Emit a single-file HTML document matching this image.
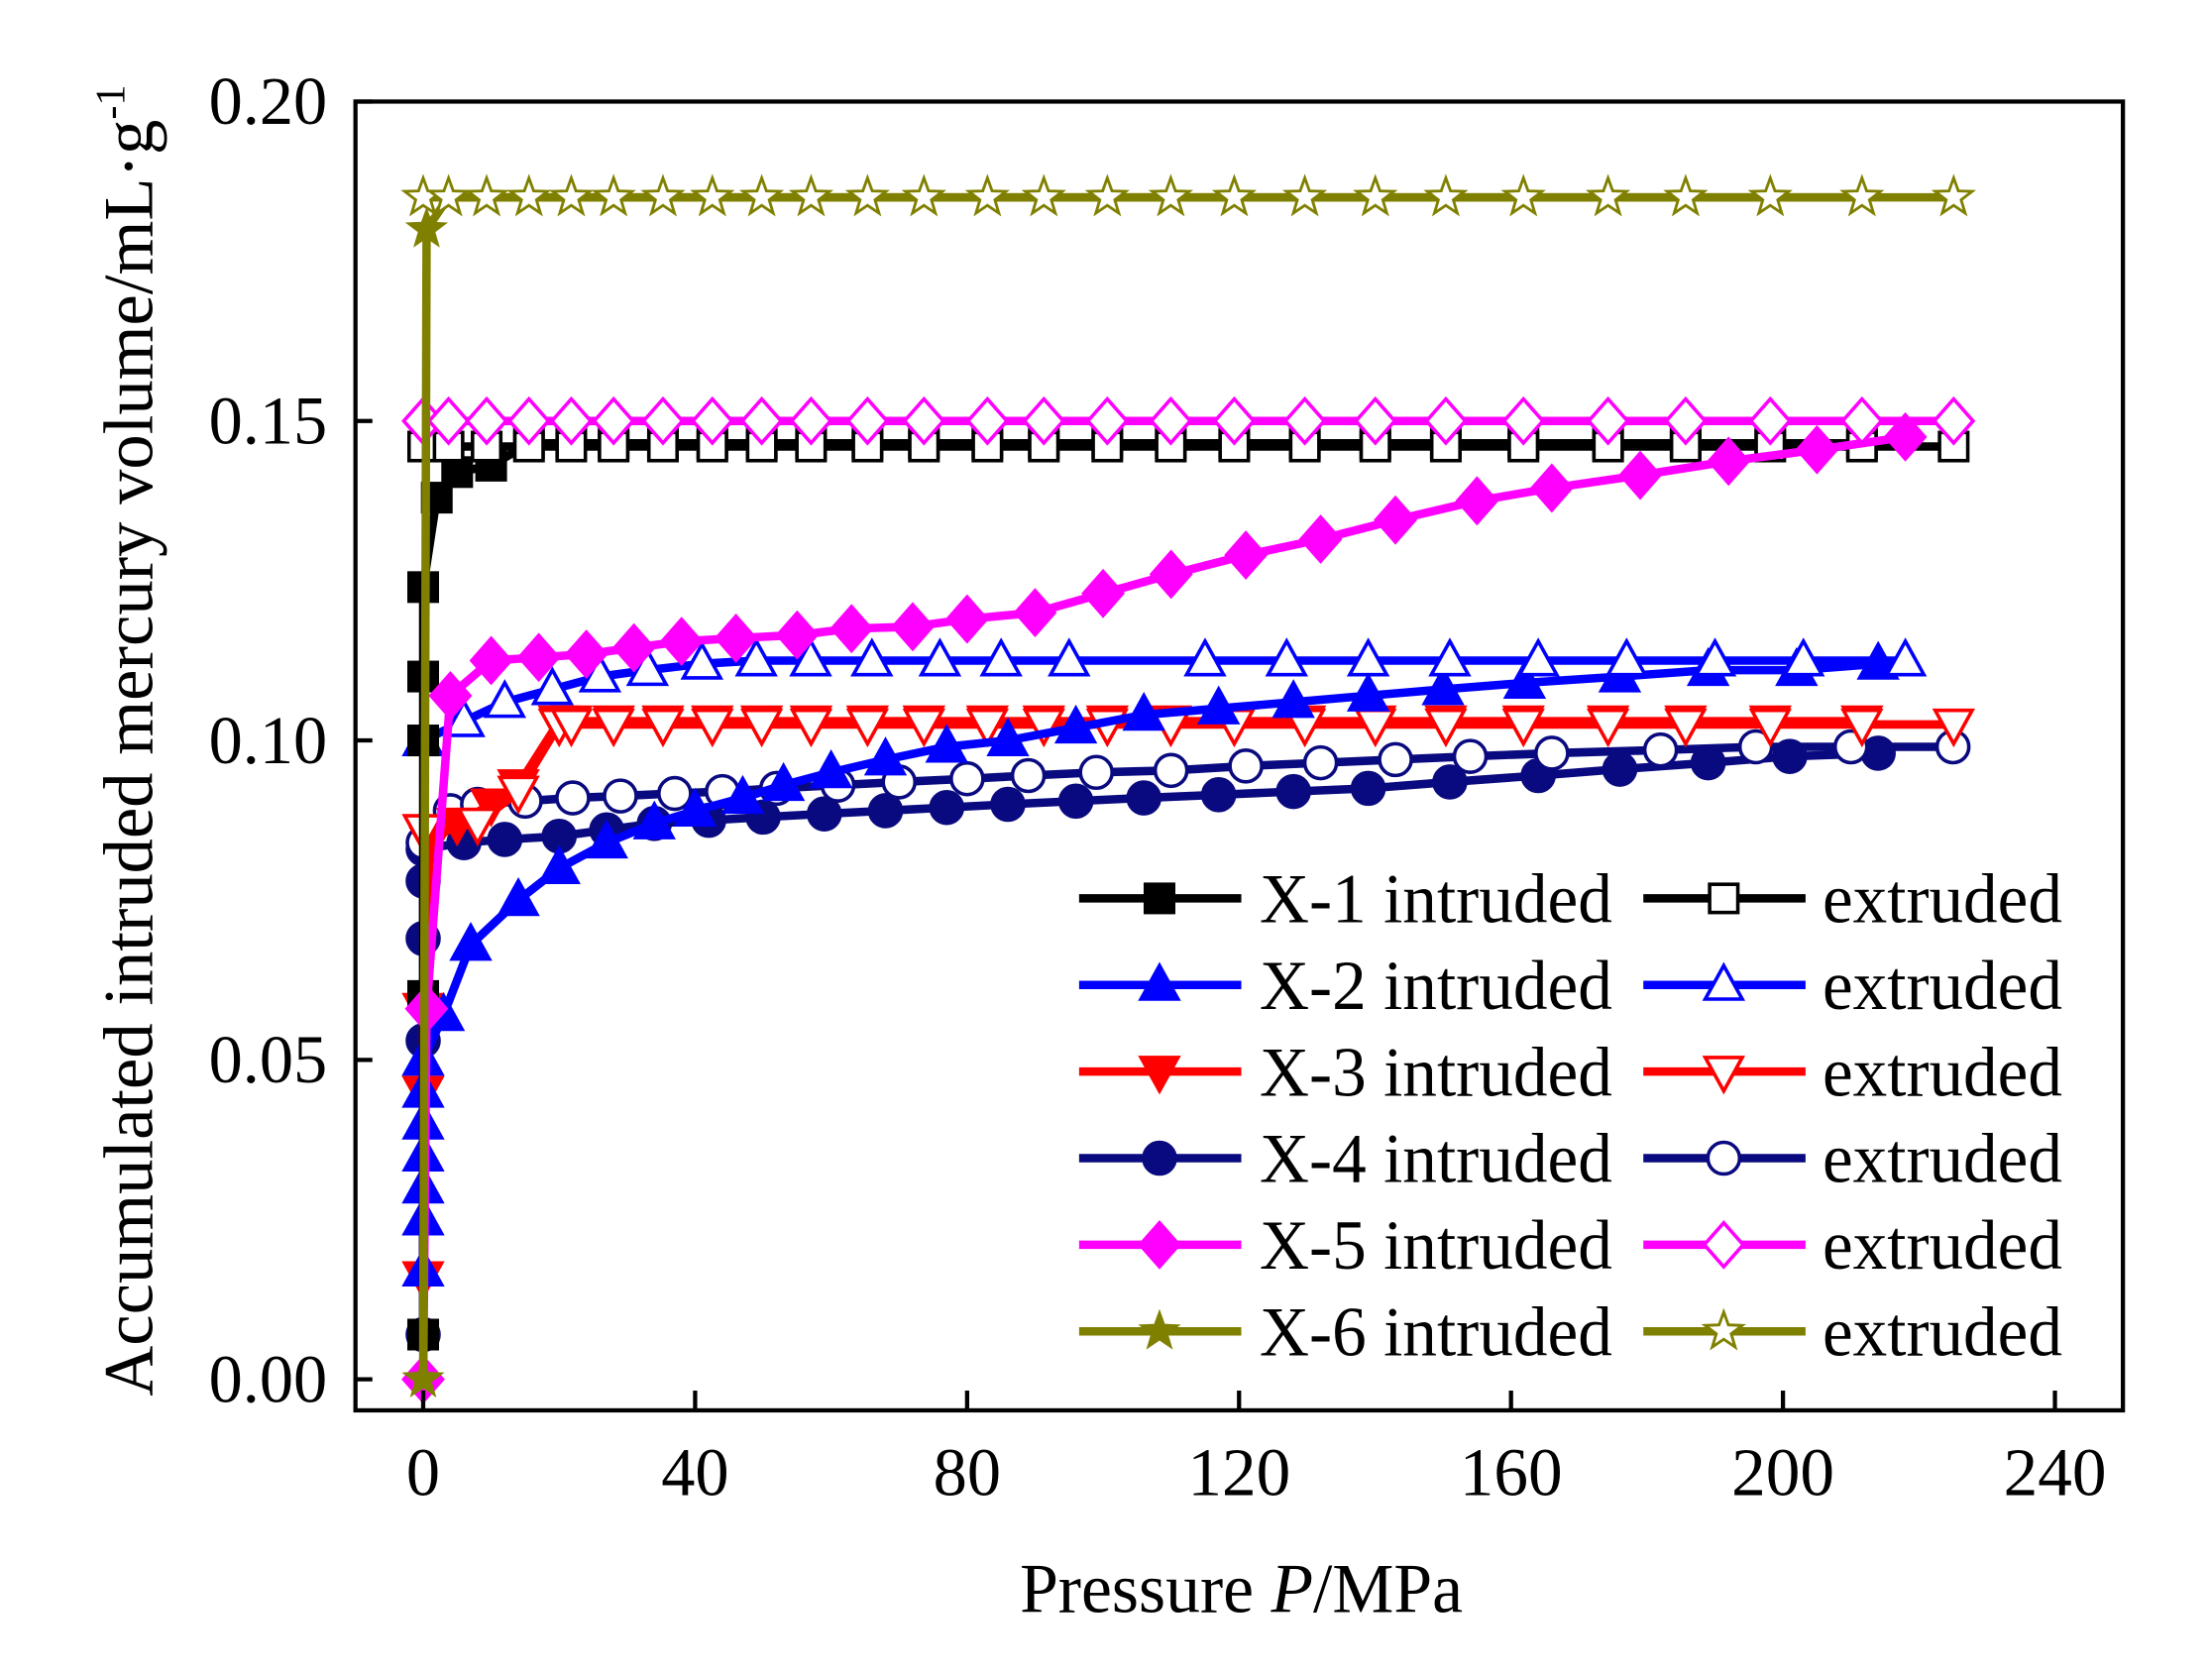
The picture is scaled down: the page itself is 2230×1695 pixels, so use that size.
<!DOCTYPE html>
<html><head><meta charset="utf-8"><style>html,body{margin:0;padding:0;background:#fff}svg{display:block}</style></head>
<body>
<svg id="s" xmlns="http://www.w3.org/2000/svg" width="2230" height="1695" viewBox="0 0 1552 1180" preserveAspectRatio="none" font-family="Liberation Serif, serif">
<rect width="1552" height="1180" fill="#fff"/>
<g transform="scale(0.9906)">
<g id="plot"></g>
<rect x="252" y="72" width="1253" height="928" fill="none" stroke="#000" stroke-width="3"/>
<g id="ax" font-size="48" fill="#000"></g>
<text x="880" y="1143" font-size="50" text-anchor="middle" textLength="314" lengthAdjust="spacingAndGlyphs">Pressure <tspan font-style="italic">P</tspan>/MPa</text>
<text transform="translate(108,525) rotate(-90)" font-size="50" text-anchor="middle" textLength="930" lengthAdjust="spacingAndGlyphs">Accumulated intruded mercury volume/mL·g<tspan dy="-20" font-size="30">-1</tspan></text>
<g id="leg"></g>
</g>
</svg>
<script>
const NS="http://www.w3.org/2000/svg";
const X=v=>300+v*4.82, Y=v=>978-v*4530;
function el(p,t,a){const e=document.createElementNS(NS,t);for(const k in a)e.setAttribute(k,a[k]);p.appendChild(e);return e;}
const plot=document.getElementById('plot'),ax=document.getElementById('ax'),leg=document.getElementById('leg');
[0,0.05,0.10,0.15,0.20].forEach(v=>{el(ax,'line',{x1:252,x2:264,y1:Y(v),y2:Y(v),stroke:'#000','stroke-width':3});const t=el(ax,'text',{x:148,y:Y(v)+16,textLength:84,lengthAdjust:'spacingAndGlyphs'});t.textContent=v.toFixed(2);});
[0,40,80,120,160,200,240].forEach(v=>{el(ax,'line',{x1:X(v),x2:X(v),y1:1000,y2:986,stroke:'#000','stroke-width':3});const s=String(v),w=s.length==1?24:s.length==2?48:73;const t=el(ax,'text',{x:X(v)-w/2,y:1060,textLength:w,lengthAdjust:'spacingAndGlyphs'});t.textContent=s;});
function mk(g,type,x,y,c,open,r){r=r||12.5;const f=open?'#fff':c,sw=2.5;
 if(type=='sq')el(g,'rect',{x:x-r*0.8,y:y-r*0.8,width:r*1.6,height:r*1.6,fill:f,stroke:c,'stroke-width':sw});
 else if(type=='tu')el(g,'polygon',{points:`${x},${y-r*1.1} ${x+r*1.05},${y+r*0.8} ${x-r*1.05},${y+r*0.8}`,fill:f,stroke:c,'stroke-width':sw});
 else if(type=='td')el(g,'polygon',{points:`${x},${y+r*1.1} ${x+r*1.05},${y-r*0.8} ${x-r*1.05},${y-r*0.8}`,fill:f,stroke:c,'stroke-width':sw});
 else if(type=='ci')el(g,'circle',{cx:x,cy:y,r:r*0.9,fill:f,stroke:c,'stroke-width':sw});
 else if(type=='di')el(g,'polygon',{points:`${x},${y-r*1.25} ${x+r*1.1},${y} ${x},${y+r*1.25} ${x-r*1.1},${y}`,fill:f,stroke:c,'stroke-width':sw});
 else if(type=='st'){let p=[];for(let i=0;i<10;i++){const a=-Math.PI/2+i*Math.PI/5,rr=i%2?r*0.45:r*1.1;p.push((x+rr*Math.cos(a)).toFixed(1)+','+(y+rr*Math.sin(a)).toFixed(1));}el(g,'polygon',{points:p.join(' '),fill:f,stroke:c,'stroke-width':open?2:1.5});}
}
function series(pts,c,type,open){const g=el(plot,'g',{});el(g,'polyline',{points:pts.map(p=>X(p[0])+','+Y(p[1])).join(' '),fill:'none',stroke:c,'stroke-width':6,'stroke-linejoin':'round'});pts.forEach(p=>mk(g,type,X(p[0]),Y(p[1]),c,open));}
const flatpx=[300,318,345,375,405,435,470,505,540,575,615,655,700,740,785,830,875,925,975,1025,1080,1140,1195,1255,1320,1385];
const flatX=flatpx.map(p=>(p-300)/4.82);
const flat=(v,end)=>flatX.filter(x=>x<=end).map(x=>[x,v]);
const K='#000',B='#0000ff',R='#ff0000',N='#0a0a80',M='#ff00ff',O='#808000';
series([[0,0.007],[0,0.053],[0,0.069],[0,0.078],[0,0.083],[6,0.084],[12,0.0845],[20,0.085],[27,0.086],[34,0.087],[42,0.0875],[50,0.088],[59,0.0885],[68,0.089],[77,0.0895],[86,0.090],[96,0.0905],[106,0.091],[117,0.0915],[128,0.092],[139,0.0925],[151,0.0935],[164,0.0945],[176,0.0955],[189,0.0965],[201,0.0975],[214,0.098]],N,'ci',false);
series([[0,0.084],[4,0.089],[8,0.090],[15,0.0905],[22,0.091],[29,0.0913],[37,0.0917],[44,0.092],[52,0.0925],[61,0.093],[70,0.0935],[80,0.094],[89,0.0945],[99,0.095],[110,0.0953],[121,0.096],[132,0.0965],[143,0.097],[154,0.0975],[166,0.098],[182,0.0985],[196,0.099],[210,0.099],[225,0.099]],N,'ci',true);
series([[0,0.016],[0,0.045],[0,0.058],[1,0.084],[5,0.087],[10,0.09],[14,0.093],[20,0.103]].concat(flat(0.103,216).filter(p=>p[0]>20)),R,'td',false);
series([[0,0.086],[8,0.087],[14,0.092],[20,0.1025]].concat(flat(0.1025,226).filter(p=>p[0]>20)),R,'td',true);
series([[0,0.017],[0,0.025],[0,0.03],[0,0.035],[0,0.04],[0,0.045],[0,0.05],[3,0.057],[7,0.068],[14,0.075],[20,0.080],[27,0.084],[34,0.087],[40,0.089],[47,0.091],[53,0.093],[60,0.095],[68,0.097],[77,0.099],[86,0.100],[96,0.102],[106,0.104],[117,0.105],[128,0.106],[139,0.107],[150,0.108],[162,0.109],[176,0.110],[189,0.111],[202,0.111],[214,0.112]],B,'tu',false);
series([[0,0.100],[6,0.103],[12,0.106],[19,0.108],[26,0.110],[33,0.111],[41,0.112],[49,0.1125],[57,0.1125],[66,0.1125],[76,0.1125],[85,0.1125],[95,0.1125],[115,0.1125],[127,0.1125],[139,0.1125],[151,0.1125],[164,0.1125],[177,0.1125],[190,0.1125],[203,0.1125],[218,0.1125]],B,'tu',true);
series([[0,0.007],[0,0.06],[0,0.1],[0,0.11],[0,0.124],[2,0.138],[5,0.142],[10,0.143]].concat(flat(0.1465,218).filter(p=>p[0]>12)),K,'sq',false);
series(flat(0.146,226),K,'sq',true);
series([[0,0],[0.5,0.058],[4,0.107],[10,0.1125],[17,0.113],[24,0.1135],[31,0.1145],[38,0.1155],[46,0.116],[55,0.1165],[63,0.1175],[72,0.1178],[80,0.119],[90,0.120],[100,0.123],[110,0.126],[121,0.129],[132,0.1315],[143,0.1345],[155,0.1375],[166,0.1395],[179,0.1415],[192,0.1437],[205,0.1455],[218,0.1475]],M,'di',false);
series(flat(0.15,226),M,'di',true);
series([[0,0],[0.5,0.18]].concat(flat(0.185,222).filter(p=>p[0]>0.6)),O,'st',false);
series(flat(0.185,226),O,'st',true);
const L=[[K,'sq'],[B,'tu'],[R,'td'],[N,'ci'],[M,'di'],[O,'st']];
L.forEach((l,i)=>{const y=637+i*61.4;
 el(leg,'line',{x1:765,x2:880,y1:y,y2:y,stroke:l[0],'stroke-width':6});mk(leg,l[1],822,y,l[0],false);
 let t=el(leg,'text',{x:893,y:y+17,'font-size':50,textLength:250,lengthAdjust:'spacingAndGlyphs'});t.textContent='X-'+(i+1)+' intruded';
 el(leg,'line',{x1:1165,x2:1280,y1:y,y2:y,stroke:l[0],'stroke-width':6});mk(leg,l[1],1222,y,l[0],true);
 t=el(leg,'text',{x:1292,y:y+17,'font-size':50,textLength:170,lengthAdjust:'spacingAndGlyphs'});t.textContent='extruded';});
</script>
</body></html>
